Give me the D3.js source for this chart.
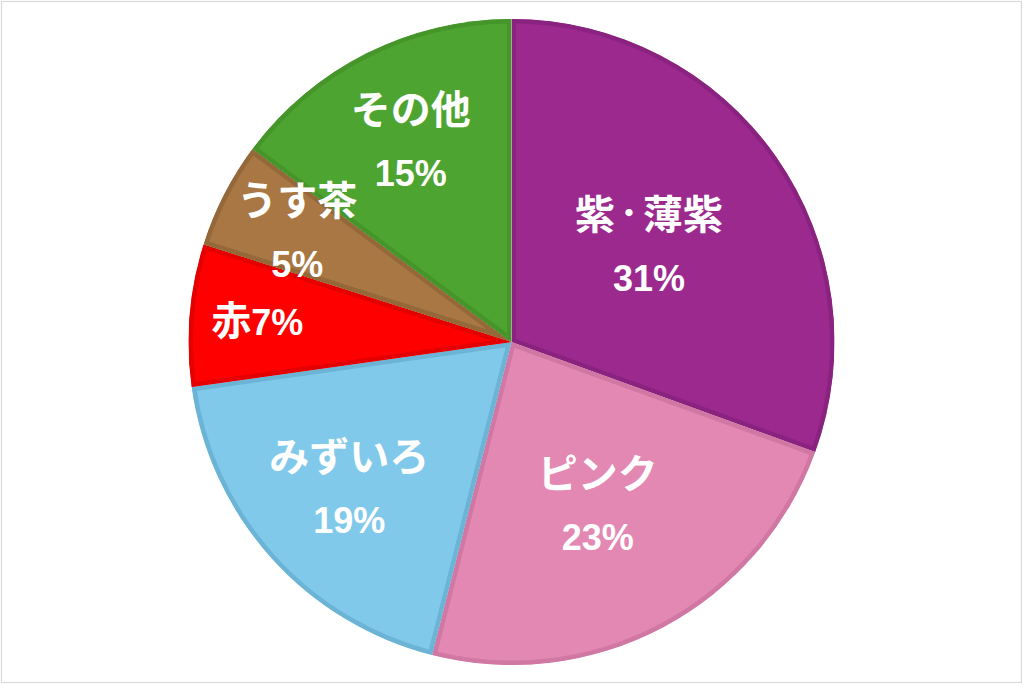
<!DOCTYPE html>
<html>
<head>
<meta charset="utf-8">
<script src="https://cdn.jsdelivr.net/npm/d3@7"></script>
<style>
  html, body { margin: 0; padding: 0; background: #fff; }
  svg { display: block; }
</style>
</head>
<body>
<svg id="chart" width="1024" height="686"></svg>
<script>
// ---- data ----
const categories = ["紫・薄紫", "ピンク", "みずいろ", "赤", "うす茶", "その他"];
const values = [30.5, 23.4, 18.8, 7.1, 5.3, 14.8];
const fillColors = ["#9C2A8E", "#E388B3", "#81C9EA", "#FF0000", "#A87744", "#4EA430"];
const strokeColors = ["#8A2380", "#D077A3", "#6CB4D6", "#E40000", "#946839", "#45952A"];
const singleLine = [false, false, false, true, false, false];
// layout: radial position of each label as a fraction of the radius
const labelRadius = [0.52, 0.57, 0.675, 0.79, 0.745, 0.695];

const W = 1024, H = 686;
const cx = 511.5, cy = 342, R = 323;

const svg = d3.select("#chart");

// outer frame
svg.append("rect")
  .attr("x", 1.5).attr("y", 1.5)
  .attr("width", 1020).attr("height", 681)
  .attr("fill", "#fff")
  .attr("stroke", "#d9d9d9")
  .attr("stroke-width", 1.2);

const data = categories.map((c, i) => ({ name: c, value: values[i], i }));
const total = d3.sum(values);

const pie = d3.pie().value(d => d.value).sort(null);
const arcs = pie(data);
const arc = d3.arc().innerRadius(0).outerRadius(R);

const g = svg.append("g").attr("transform", `translate(${cx},${cy})`);
const defs = svg.append("defs");

arcs.forEach((a, i) => {
  defs.append("clipPath").attr("id", "clip" + i)
    .append("path").attr("d", arc(a));
});

g.selectAll("path.slice")
  .data(arcs)
  .join("path")
  .attr("class", "slice")
  .attr("d", arc)
  .attr("fill", d => fillColors[d.index])
  .attr("stroke", d => strokeColors[d.index])
  .attr("stroke-width", 9)
  .attr("stroke-linejoin", "miter")
  .attr("clip-path", d => `url(#clip${d.index})`);

// labels
const fontFam = "'Liberation Sans', Arial, 'Noto Sans CJK JP', sans-serif";
const cjkFam = "'Noto Sans CJK JP', sans-serif";
const cjkSize = 40, pctSize = 36, dotSize = 28;

function appendName(textSel, name) {
  // render the full-width middle dot smaller/narrower like the reference
  const chars = Array.from(name);
  chars.forEach((ch, k) => {
    const ts = textSel.append("tspan").text(ch);
    if (ch === "・") {
      ts.attr("font-size", dotSize).attr("dy", -(0.38 * (cjkSize - dotSize)));
    } else if (k > 0 && chars[k - 1] === "・") {
      ts.attr("dy", 0.38 * (cjkSize - dotSize));
    }
  });
}

arcs.forEach((a, i) => {
  const la = d3.arc().innerRadius(R * labelRadius[i]).outerRadius(R * labelRadius[i]);
  const [lx, ly] = la.centroid(a);
  const pct = Math.round(a.data.value / total * 100) + "%";
  if (singleLine[i]) {
    const t = g.append("text")
      .attr("x", lx).attr("y", ly + 14)
      .attr("text-anchor", "middle")
      .attr("fill", "#fff")
      .attr("font-family", fontFam)
      .attr("font-weight", 700);
    t.append("tspan").attr("font-size", cjkSize).attr("font-family", cjkFam).text(a.data.name);
    t.append("tspan").attr("font-size", pctSize).text(pct);
  } else {
    const t1 = g.append("text")
      .attr("x", lx).attr("y", ly - 32 + 15)
      .attr("text-anchor", "middle")
      .attr("fill", "#fff")
      .attr("font-family", cjkFam)
      .attr("font-weight", 700)
      .attr("font-size", cjkSize);
    appendName(t1, a.data.name);
    g.append("text")
      .attr("x", lx).attr("y", ly + 32 + 13)
      .attr("text-anchor", "middle")
      .attr("fill", "#fff")
      .attr("font-family", fontFam)
      .attr("font-weight", 700)
      .attr("font-size", pctSize)
      .text(pct);
  }
});
</script>
</body>
</html>
